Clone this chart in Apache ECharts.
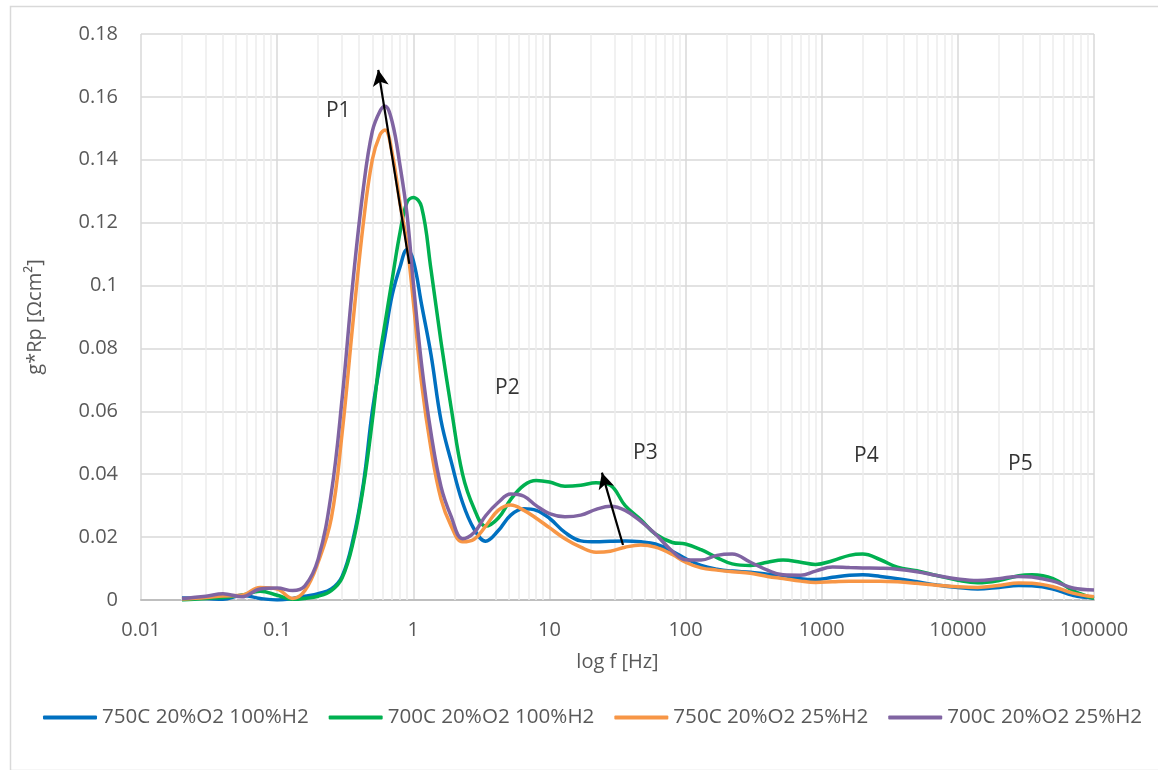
<!DOCTYPE html>
<html>
<head>
<meta charset="utf-8">
<script src="https://cdn.jsdelivr.net/npm/echarts@6/dist/echarts.min.js"></script>
<style>
  html, body { margin: 0; padding: 0; background: #fff; }
  #chart { width: 1158px; height: 770px; }
</style>
</head>
<body>
<div id="chart"></div>
<script>
(function () {
  'use strict';

  // DRT curves, g*Rp vs frequency (Hz)
  const freq = [0.02, 0.03, 0.04, 0.055, 0.075, 0.1, 0.13, 0.16, 0.2, 0.25, 0.3, 0.36, 0.43, 0.5, 0.57, 0.62,
    0.7, 0.8, 0.9, 1.0, 1.15, 1.35, 1.6, 1.9, 2.3, 2.8, 3.4, 4.2, 5.2, 6.5, 8, 10, 13, 17, 22, 28, 36, 47, 60, 80,
    100, 130, 170, 220, 300, 400, 520, 700, 900, 1200, 1600, 2000, 2700, 3600, 5000, 7000, 10000, 14000, 20000,
    28000, 35000, 50000, 70000, 100000];

  const blue750H100 = [0.0006, 0.0005, 0.0002, 0.0015, 0.0005, 0.0, 0.0005, 0.0012, 0.002, 0.0035, 0.0075, 0.019, 0.037, 0.060, 0.075, 0.084,
    0.097, 0.106, 0.1115, 0.108, 0.094, 0.078, 0.057, 0.044, 0.031, 0.0225, 0.0187, 0.022, 0.027, 0.029, 0.0285, 0.026, 0.0215, 0.0188, 0.0185, 0.0187, 0.0188, 0.0185, 0.0178, 0.0155,
    0.0132, 0.011, 0.0098, 0.0092, 0.0088, 0.0082, 0.0078, 0.0068, 0.0065, 0.0072, 0.0079, 0.008, 0.0075, 0.0068, 0.0058, 0.0048, 0.004, 0.0035, 0.004,
    0.0046, 0.0045, 0.0035, 0.0015, 0.0006];

  const green700H100 = [0.0, 0.0005, 0.0008, 0.0015, 0.0028, 0.0015, 0.0002, 0.0005, 0.0012, 0.003, 0.007, 0.018, 0.036, 0.057, 0.078, 0.088,
    0.102, 0.117, 0.1265, 0.128, 0.125, 0.105, 0.082, 0.061, 0.04, 0.029, 0.0235, 0.026, 0.032, 0.0365, 0.038, 0.0375, 0.0362, 0.0365, 0.0373, 0.0365, 0.030, 0.0255, 0.021, 0.0183,
    0.0178, 0.016, 0.0135, 0.0115, 0.011, 0.012, 0.0127, 0.012, 0.0113, 0.0125, 0.0142, 0.0146, 0.0128, 0.0104, 0.0093, 0.0078, 0.0063, 0.0055, 0.0062,
    0.0077, 0.008, 0.0068, 0.003, 0.0005];

  const orange750H25 = [0.0003, 0.0008, 0.0013, 0.0015, 0.004, 0.0035, 0.0005, 0.003, 0.012, 0.026, 0.053, 0.088, 0.12, 0.14, 0.148, 0.1495,
    0.142, 0.126, 0.113, 0.095, 0.069, 0.048, 0.032, 0.0235, 0.0185, 0.0193, 0.0235, 0.0285, 0.0302, 0.0285, 0.026, 0.023, 0.0195, 0.0168, 0.0152, 0.0155, 0.0168, 0.0175, 0.0168, 0.0145,
    0.012, 0.0102, 0.0095, 0.009, 0.0085, 0.0075, 0.0068, 0.006, 0.0056, 0.0058, 0.006, 0.006, 0.006, 0.0058, 0.0053, 0.0047, 0.0042, 0.004, 0.0046,
    0.0054, 0.0053, 0.0042, 0.0022, 0.001];

  const purple700H25 = [0.0005, 0.0012, 0.002, 0.001, 0.0035, 0.0038, 0.003, 0.0045, 0.013, 0.034, 0.064, 0.101, 0.131, 0.149, 0.1555, 0.157,
    0.152, 0.138, 0.1225, 0.101, 0.075, 0.053, 0.036, 0.0265, 0.0195, 0.0215, 0.0268, 0.031, 0.0337, 0.033, 0.030, 0.0275, 0.0265, 0.027, 0.0288, 0.0298, 0.0285, 0.025, 0.021, 0.0155,
    0.0128, 0.0127, 0.0142, 0.0146, 0.012, 0.0095, 0.008, 0.0079, 0.0092, 0.0105, 0.0103, 0.0102, 0.0101, 0.0098, 0.009, 0.0078, 0.0067, 0.0062, 0.0068,
    0.0075, 0.0073, 0.006, 0.0038, 0.0032];

  const seriesNames = ['750C 20%O2 100%H2', '700C 20%O2 100%H2', '750C 20%O2 25%H2', '700C 20%O2 25%H2'];
  const seriesValues = [blue750H100, green700H100, orange750H25, purple700H25];
  const seriesColors = ['#0070c0', '#00b050', '#f79646', '#8064a2'];

  // peak labels and arrows (in data units)
  const noteLabels = ['P1', 'P2', 'P3', 'P4', 'P5'];
  const noteFreq = [0.281, 4.91, 50.7, 2130, 28800];
  const noteValue = [0.1555, 0.0674, 0.0468, 0.0458, 0.0433];
  const arrowFrom = [[0.935, 0.1069], [34.7, 0.0175]];
  const arrowTo = [[0.553, 0.1686], [24.3, 0.0405]];

  const TXT = '#595959';
  const FONT = '"Open Sans", "Noto Sans", sans-serif';

  // minor vertical grid: 2..9 of each decade
  const minorLines = [];
  for (let d = -2; d < 5; d++) {
    for (let m = 2; m <= 9; m++) minorLines.push({ xAxis: +(m * Math.pow(10, d)).toPrecision(6) });
  }

  const lineSeries = seriesNames.map((name, i) => ({
    name: name,
    type: 'line',
    data: freq.map((f, j) => [f, seriesValues[i][j]]),
    smooth: 0.4,
    showSymbol: false,
    symbol: 'none',
    lineStyle: { width: 3.5, color: seriesColors[i] },
    itemStyle: { color: seriesColors[i] },
    z: 3
  }));

  const chart = echarts.init(document.getElementById('chart'));
  chart.setOption({
    animation: false,
    textStyle: { fontFamily: FONT },
    graphic: [{
      type: 'rect', left: 8, top: 4, shape: { width: 1200, height: 764 },
      style: { fill: null, stroke: '#d9d9d9', lineWidth: 1.5 }, silent: true
    }],
    grid: { left: 141, right: 64, top: 34, bottom: 170 },
    legend: {
      data: seriesNames,
      left: 38, top: 702, width: 1118,
      icon: 'roundRect',
      itemWidth: 54, itemHeight: 4, itemGap: 20,
      textStyle: { color: TXT, fontSize: 20.6, fontFamily: FONT }
    },
    xAxis: {
      type: 'log', logBase: 10, min: 0.01, max: 100000,
      name: 'log f [Hz]', nameLocation: 'middle', nameGap: 52,
      nameTextStyle: { color: TXT, fontSize: 20, fontFamily: FONT },
      axisLine: { show: true, lineStyle: { color: '#bfbfbf', width: 2 } },
      axisTick: { show: false },
      axisLabel: {
        color: TXT, fontSize: 20, margin: 20, fontFamily: FONT,
        formatter: v => String(parseFloat(Number(v).toPrecision(6)))
      },
      splitLine: { show: true, lineStyle: { color: '#d9d9d9', width: 1.5 } }
    },
    yAxis: {
      type: 'value', min: 0, max: 0.18, interval: 0.02,
      name: 'g*Rp [Ωcm²]', nameLocation: 'middle', nameGap: 96, nameRotate: 90,
      nameTextStyle: { color: TXT, fontSize: 20, fontFamily: FONT },
      axisLine: { show: false },
      axisTick: { show: false },
      axisLabel: { color: TXT, fontSize: 20, margin: 23, fontFamily: FONT },
      splitLine: { show: true, lineStyle: { color: '#d9d9d9', width: 1.5 } }
    },
    series: [{
      name: 'minor-grid',
      type: 'line',
      data: [],
      silent: true,
      markLine: {
        silent: true, z: 1, symbol: ['none', 'none'],
        label: { show: false },
        lineStyle: { color: '#ececec', width: 1.5, type: 'solid' },
        emphasis: { disabled: true },
        data: minorLines
      }
    }].concat(lineSeries).concat([{
      name: 'notes',
      type: 'scatter',
      symbolSize: 0,
      silent: true,
      z: 6,
      data: noteLabels.map((t, i) => [noteFreq[i], noteValue[i], t]),
      label: {
        show: true, position: 'inside', color: '#000', fontSize: 21, fontFamily: FONT,
        formatter: p => p.value[2]
      },
      markLine: {
        silent: true, z: 6,
        symbol: ['none', 'arrow'], symbolSize: [12, 16],
        label: { show: false },
        lineStyle: { color: '#000', width: 2.2, type: 'solid' },
        emphasis: { disabled: true },
        data: arrowFrom.map((a, i) => [{ coord: a }, { coord: arrowTo[i] }])
      }
    }])
  });

  window.addEventListener('resize', () => chart.resize());
})();
</script>
</body>
</html>
